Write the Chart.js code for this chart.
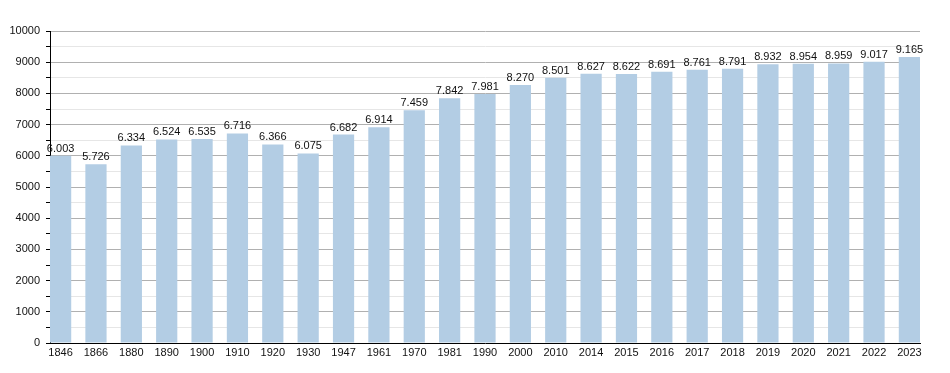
<!DOCTYPE html>
<html>
<head>
<meta charset="utf-8">
<script src="https://cdn.jsdelivr.net/npm/chart.js@4"></script>
<style>
  html, body { margin: 0; padding: 0; background: #fff; }
  #wrap { width: 950px; height: 373px; }
</style>
</head>
<body>
<div id="wrap"><canvas id="chart" width="950" height="373"></canvas></div>
<script>
var years = ["1846","1866","1880","1890","1900","1910","1920","1930","1947","1961","1970","1981","1990","2000","2010","2014","2015","2016","2017","2018","2019","2020","2021","2022","2023"];
var population = [6003, 5726, 6334, 6524, 6535, 6716, 6366, 6075, 6682, 6914, 7459, 7842, 7981, 8270, 8501, 8627, 8622, 8691, 8761, 8791, 8932, 8954, 8959, 9017, 9165];
var yTicks = [0, 1000, 2000, 3000, 4000, 5000, 6000, 7000, 8000, 9000, 10000];

function fmt(v) {
  var s = String(v);
  return s.length > 3 ? s.slice(0, s.length - 3) + "." + s.slice(-3) : s;
}

var points = population.map(function (v, i) { return { x: i, y: v }; });

// draws the value above each bar
var valueLabels = {
  id: "valueLabels",
  afterDatasetsDraw: function (chart) {
    var ctx = chart.ctx;
    var meta = chart.getDatasetMeta(0);
    ctx.save();
    ctx.font = "11px 'Liberation Sans', Arial, sans-serif";
    ctx.fillStyle = "#111";
    ctx.textAlign = "center";
    ctx.textBaseline = "alphabetic";
    meta.data.forEach(function (bar, i) {
      ctx.fillText(fmt(population[i]), bar.x, bar.y - 4);
    });
    ctx.restore();
  }
};

new Chart(document.getElementById("chart"), {
  type: "bar",
  data: {
    datasets: [{
      data: points,
      backgroundColor: "#b3cde4",
      borderWidth: 0,
      barPercentage: 0.6,
      categoryPercentage: 1
    }]
  },
  options: {
    responsive: false,
    animation: false,
    layout: { padding: { top: 31, right: 30, left: 0, bottom: 0 } },
    plugins: { legend: { display: false }, tooltip: { enabled: false } },
    scales: {
      x: {
        type: "linear",
        offset: false,
        min: -0.3,
        max: years.length - 0.7,
        afterBuildTicks: function (axis) {
          axis.ticks = years.map(function (y, i) { return { value: i }; });
        },
        afterFit: function (axis) { axis.height = 30; },
        ticks: {
          autoSkip: false,
          maxRotation: 0,
          padding: 3,
          color: "#111",
          font: { family: "'Liberation Sans', Arial, sans-serif", size: 11 },
          callback: function (v) { return years[v]; }
        },
        grid: { display: false, drawTicks: false, offset: false },
        border: { color: "#000", width: 1 }
      },
      y: {
        min: 0,
        max: 10000,
        afterBuildTicks: function (axis) {
          var t = [];
          for (var v = 0; v <= 10000; v += 500) t.push({ value: v });
          axis.ticks = t;
        },
        afterFit: function (axis) { axis.width = 50; },
        ticks: {
          autoSkip: false,
          padding: 6,
          color: "#111",
          font: { family: "'Liberation Sans', Arial, sans-serif", size: 11 },
          callback: function (v) { return yTicks.indexOf(v) >= 0 ? String(v) : ""; }
        },
        grid: {
          tickLength: 4,
          color: function (c) {
            if (c.tick && c.tick.value === 0) return "rgba(0,0,0,0)";
            return c.tick && c.tick.value % 1000 === 0 ? "#b0b0b0" : "#e6e6e6";
          },
          tickColor: "#000"
        },
        border: { color: "#000", width: 1 }
      }
    }
  },
  plugins: [valueLabels]
});
</script>
</body>
</html>
